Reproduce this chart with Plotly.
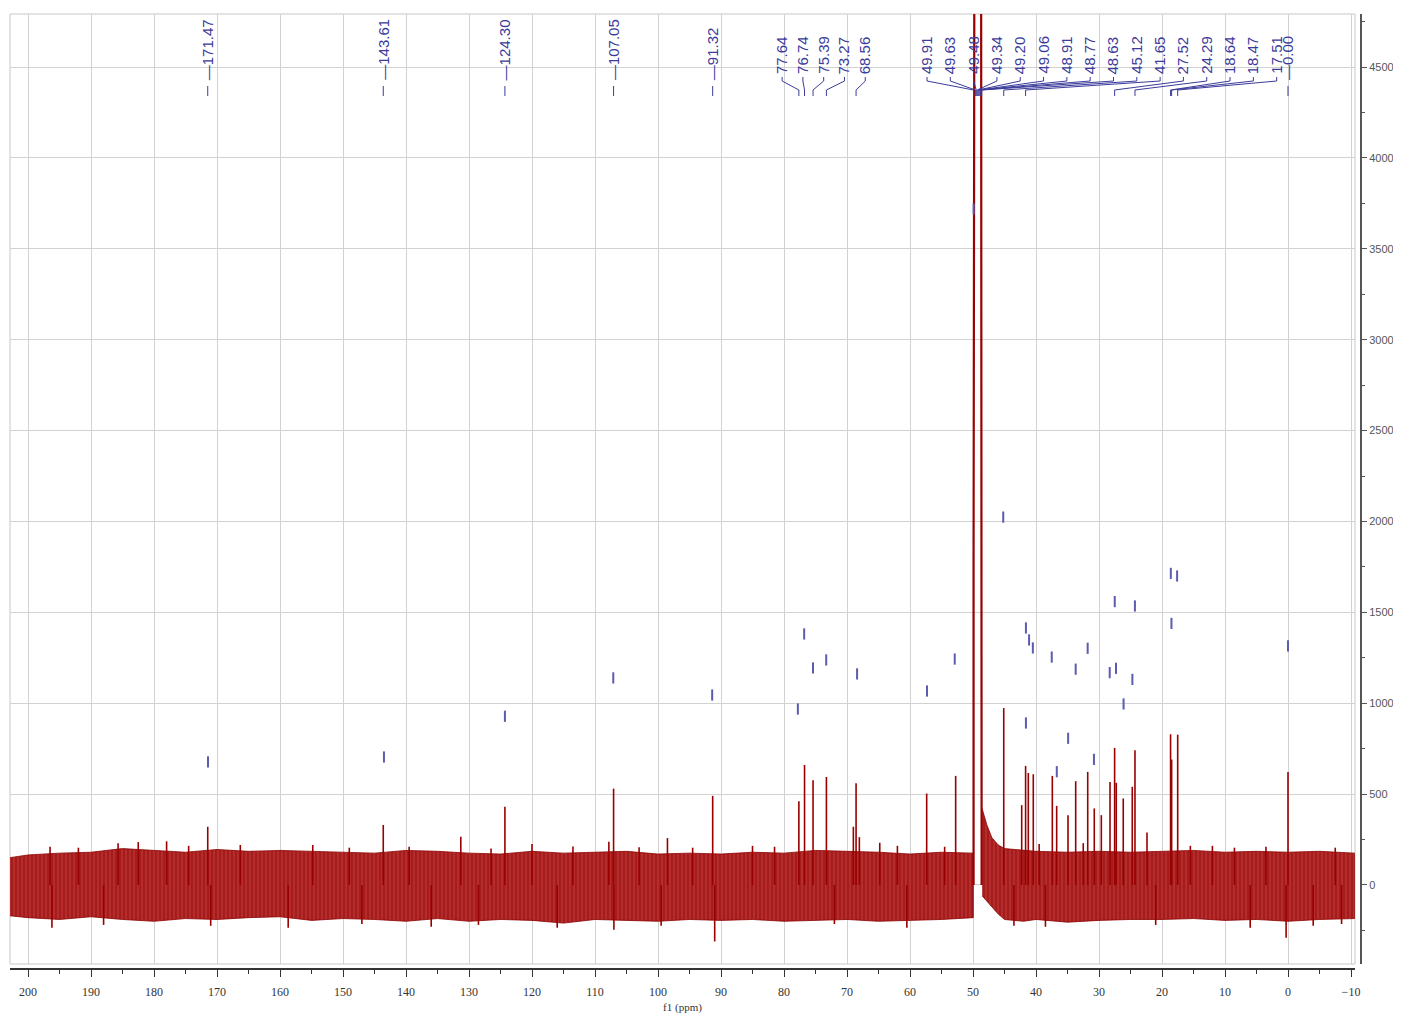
import plotly.graph_objects as go

# 13C NMR spectrum (CD3OD)
peak_ppm = [171.47, 143.61, 185.7, 182.5, 178.0, 166.3, 154.8, 131.3, 124.30, 120.0,
            107.8, 107.05, 98.5, 91.32, 85.0,
            77.64, 76.74, 75.39, 73.27, 68.99, 68.56, 68.04, 64.8, 57.35, 52.75,
            45.12, 42.27, 41.65, 41.22, 40.43, 37.41, 36.72, 34.92, 33.70, 31.79,
            30.75, 29.63, 28.25, 27.52, 27.26, 26.15, 24.72, 24.29, 22.38,
            18.64, 18.47, 17.51, 12.0, 0.00,
            196.5, 192.0, 174.5, 149.0, 139.5, 126.5, 113.5, 103.0, 94.5, 81.5,
            62.0, 54.5, 39.5, 32.5, 15.5, 8.5, 3.5, -7.5,
            196.2, 158.7, 136.0, 116.0, 107.0, 91.0, 60.5, 38.5, 6.0, 0.3, -4.0,
            188.0, 171.0, 147.0, 128.5, 99.5, 72.0, 43.5, 21.0, -8.5]
peak_height = [320, 330, 230, 236, 240, 220, 220, 265, 430, 225,
               238, 530, 258, 490, 215,
               460, 660, 576, 594, 320, 560, 263, 232, 503, 600,
               973, 439, 655, 616, 609, 600, 435, 384, 571, 622,
               421, 384, 567, 754, 562, 476, 540, 741, 289,
               829, 690, 827, 215, 622,
               210, 205, 215, 205, 210, 200, 212, 208, 205, 210,
               215, 210, 225, 230, 215, 205, 210, 205,
               -236, -236, -230, -235, -247, -311, -235, -230, -235, -291, -225,
               -220, -225, -215, -220, -225, -215, -225, -220, -215]

# solvent septet, runs off the top of the plot
solvent_ppm = [49.91, 49.63, 49.48, 49.34, 49.20, 49.06, 48.91, 48.77, 48.63]
solvent_height = [1820, 9000, 20000, 32000, 36000, 32000, 20000, 9000, 1800]

# noise floor envelope (left and right of the solvent signal)
noise_l_ppm = [202.86, 200, 195, 190, 185, 180, 175, 170, 165, 160, 155, 150, 145, 140,
               135, 130, 125, 120, 115, 110, 105, 100, 95, 90, 85, 80, 75, 70, 65, 60,
               55, 49.95]
noise_l_hi = [150, 165, 175, 180, 200, 190, 180, 195, 185, 190, 185, 180, 175, 190,
              185, 175, 170, 185, 175, 180, 185, 170, 175, 170, 180, 175, 190, 185, 180, 170,
              180, 175]
noise_l_lo = [-170, -180, -190, -175, -190, -200, -185, -190, -180, -175, -195, -185, -190, -200,
              -185, -200, -190, -195, -210, -190, -195, -200, -190, -195, -190, -200, -195, -190, -200, -195,
              -190, -180]
noise_r_ppm = [48.55, 47.8, 47.0, 46.0, 45.0, 42.0, 40.0, 35.0, 30.0, 25.0, 20.0, 15.0,
               10.0, 5.0, 0.0, -5.0, -10.6]
noise_r_hi = [420, 330, 260, 220, 200, 190, 185, 180, 185, 180, 185, 190,
              180, 185, 180, 185, 175]
noise_r_lo = [-60, -90, -120, -160, -190, -200, -190, -205, -195, -190, -190, -185,
              -195, -190, -200, -190, -185]

# peak-pick markers
pick_ppm = [171.43, 143.5, 124.3, 107.1, 91.4, 77.8, 76.8, 75.4, 73.3, 68.4, 57.3, 52.9,
            49.9, 45.2, 41.6, 41.1, 40.5, 41.6, 37.5, 36.7, 34.9, 33.7, 31.8, 30.8,
            28.3, 27.5, 27.3, 26.1, 24.7, 24.3, 18.6, 17.6, 18.5, 0.0]
pick_level = [677, 704, 928, 1139, 1045, 968, 1381, 1194, 1238, 1161, 1067, 1243,
              3719, 2024, 1414, 1348, 1304, 891, 1254, 623, 807, 1187, 1302, 691,
              1168, 1559, 1192, 996, 1131, 1535, 1714, 1700, 1439, 1315]

# labelled shifts
single_labels = ["171.47", "143.61", "124.30", "107.05", "91.32", "0.00"]
group_b_labels = ["77.64", "76.74", "75.39", "73.27", "68.56"]
group_c_labels = ["49.91", "49.63", "49.48", "49.34", "49.20", "49.06", "48.91", "48.77",
                  "48.63", "45.12", "41.65", "27.52", "24.29", "18.64", "18.47", "17.51"]

OFF = 8            # page body margin
W, H = 1393, 1010
RED = "#990000"
BLUE = "#3b3b9b"


def px(x):
    return (x - OFF) / W


def py(y):
    return (H - (y - OFF)) / H


fig = go.Figure()

# noise band
for xs, hi, lo in [(noise_l_ppm, noise_l_hi, noise_l_lo), (noise_r_ppm, noise_r_hi, noise_r_lo)]:
    fig.add_trace(go.Scatter(
        x=xs + xs[::-1], y=hi + lo[::-1], mode="lines", fill="toself",
        line={"width": 0.8, "color": "#8a0000"},
        fillpattern={"shape": "|", "fgcolor": "#7d0000", "bgcolor": "#c83a3a",
                     "size": 4, "solidity": 0.75},
        hoverinfo="skip", showlegend=False,
    ))

# peaks as sticks
sx, sy = [], []
for p, h in zip(peak_ppm, peak_height):
    sx += [p, p, None]
    sy += [0, h, None]
fig.add_trace(go.Scatter(x=sx, y=sy, mode="lines", line={"color": RED, "width": 1.6},
                         showlegend=False))

# solvent
fig.add_trace(go.Scatter(
    x=[solvent_ppm[0]] + solvent_ppm + [solvent_ppm[-1]],
    y=[0] + solvent_height + [0],
    mode="lines", line={"color": RED, "width": 2.2}, showlegend=False,
))

# peak-pick markers
fig.add_trace(go.Scatter(
    x=pick_ppm, y=pick_level, mode="markers",
    marker={"symbol": "line-ns-open", "size": 8, "color": "#5b5bb0",
            "line": {"width": 2, "color": "#5b5bb0"}},
    showlegend=False,
))

annotations = []
shapes = []
lab_font = {"family": "Liberation Sans, Arial", "size": 15, "color": BLUE}


def seg(x0, y0, x1, y1):
    shapes.append(dict(type="line", xref="x", yref="paper", x0=x0, x1=x1,
                       y0=py(y0), y1=py(y1), line={"color": BLUE, "width": 1}))


for t in single_labels:
    v = float(t)
    annotations.append(dict(x=v, y=py(82), xref="x", yref="paper", text="\u2014" + t,
                            textangle=-90, showarrow=False, xanchor="center",
                            yanchor="bottom", font=lab_font))
    seg(v, 86, v, 96)

for labels, start, step in [(group_b_labels, 80.3, 3.3), (group_c_labels, 57.3, 3.7)]:
    for i, t in enumerate(labels):
        v = float(t)
        lx = start - i * step
        annotations.append(dict(x=lx, y=py(76), xref="x", yref="paper", text=t,
                                textangle=-90, showarrow=False, xanchor="center",
                                yanchor="bottom", font=lab_font))
        seg(lx, 77, lx, 81)
        seg(lx, 81, v, 90)
        seg(v, 90, v, 96)

# light frame round the plot area
shapes.append(dict(type="rect", xref="paper", yref="paper", x0=px(10), x1=px(1355),
                   y0=py(964), y1=py(14), line={"color": "#c8c8c8", "width": 1},
                   layer="below"))

fig.update_layout(
    width=W, height=H,
    margin={"l": 0, "r": 0, "t": 0, "b": 0, "pad": 0},
    plot_bgcolor="white", paper_bgcolor="white",
    showlegend=False,
    annotations=annotations,
    shapes=shapes,
    xaxis={
        "domain": [px(10), px(1355)], "range": [202.857, -10.635],
        "anchor": "free", "position": py(969), "automargin": False,
        "tickmode": "linear", "tick0": 0, "dtick": 10,
        "ticks": "outside", "ticklen": 7, "tickcolor": "#333", "tickwidth": 1,
        "ticklabelstandoff": 5,
        "minor": {"dtick": 5, "ticklen": 4, "ticks": "outside", "tickcolor": "#333",
                  "showgrid": False},
        "showgrid": True, "gridcolor": "#d2d2d2", "gridwidth": 1,
        "zeroline": False, "showline": True, "linecolor": "#333", "linewidth": 1.5,
        "tickfont": {"family": "Liberation Serif, serif", "size": 12, "color": "#333"},
        "title": {"text": "f1 (ppm)", "standoff": 4,
                  "font": {"family": "Liberation Serif, serif", "size": 11, "color": "#333"}},
    },
    yaxis={
        "domain": [py(964), py(14)], "range": [-435, 4792],
        "side": "right", "anchor": "free", "position": px(1361), "automargin": False,
        "tickmode": "linear", "tick0": 0, "dtick": 500,
        "ticks": "outside", "ticklen": 5, "tickcolor": "#555", "tickwidth": 1,
        "minor": {"dtick": 250, "ticklen": 3, "ticks": "outside", "tickcolor": "#555",
                  "showgrid": False},
        "showgrid": True, "gridcolor": "#d2d2d2", "gridwidth": 1,
        "zeroline": False, "showline": True, "linecolor": "#555", "linewidth": 2,
        "tickfont": {"family": "Liberation Sans, Arial", "size": 11, "color": "#555"},
    },
)

fig.write_html("out.html")
